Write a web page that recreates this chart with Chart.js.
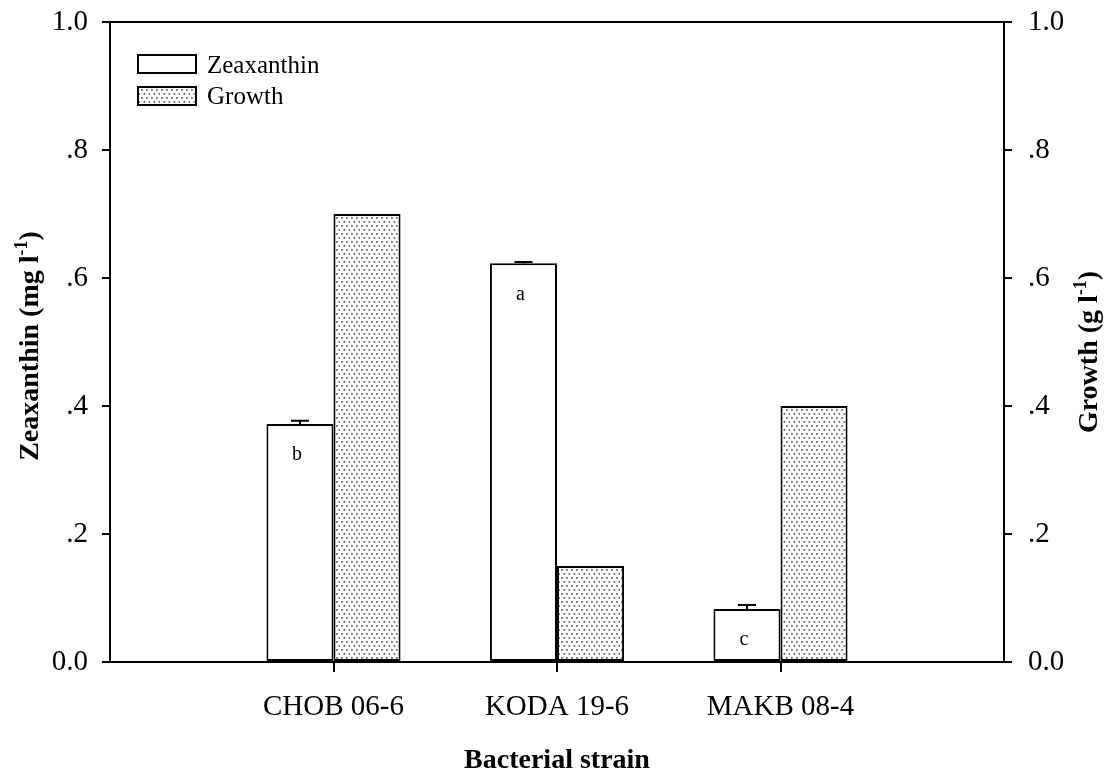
<!DOCTYPE html>
<html><head><meta charset="utf-8">
<script src="https://cdn.jsdelivr.net/npm/chart.js@4.4.0/dist/chart.umd.min.js"></script>
<style>html,body{margin:0;padding:0;background:#fff;overflow:hidden;}</style>
</head><body>
<canvas id="c" width="1105" height="775"></canvas>
<script>
const categories = ['', 'CHOB 06-6', 'KODA 19-6', 'MAKB 08-4', ''];
const zeaxanthin = [null, 0.372, 0.623, 0.083, null];
const zeaxanthinErr = [null, 0.005, 0.002, 0.006, null];
const growth = [null, 0.70, 0.15, 0.40, null];
const sigLetters = ['', 'b', 'a', 'c', ''];
const yTicks = [0, 0.2, 0.4, 0.6, 0.8, 1.0];

const FONT = '"Liberation Serif", "Times New Roman", Times, serif';

function fmt(v) {
  if (Math.abs(v) < 1e-9) return '0.0';
  if (Math.abs(v - 1) < 1e-9) return '1.0';
  return v.toFixed(1).replace(/^0/, '');
}

// dotted pattern for Growth bars
const pc = document.createElement('canvas');
pc.width = 10; pc.height = 8;
const pctx = pc.getContext('2d');
pctx.fillStyle = '#fff';
pctx.fillRect(0, 0, 10, 8);
pctx.fillStyle = '#6e6e6e';
[[1,1],[6,1],[3.5,5],[8.5,5]].forEach(([x,y]) => pctx.fillRect(x, y, 1.8, 1.8));
const ctx0 = document.getElementById('c').getContext('2d');
const dotPattern = ctx0.createPattern(pc, 'repeat');

function drawTitle(ctx, parts, x, y, rotate) {
  ctx.save();
  ctx.translate(x, y);
  if (rotate) ctx.rotate(-Math.PI / 2);
  ctx.fillStyle = '#000';
  ctx.textBaseline = 'alphabetic';
  ctx.textAlign = 'left';
  let total = 0;
  parts.forEach(p => { ctx.font = p.sup ? 'bold 18px ' + FONT : 'bold 28px ' + FONT; total += ctx.measureText(p.t).width; });
  let cx = -total / 2;
  parts.forEach(p => {
    ctx.font = p.sup ? 'bold 18px ' + FONT : 'bold 28px ' + FONT;
    ctx.fillText(p.t, cx, p.sup ? -11 : 0);
    cx += ctx.measureText(p.t).width;
  });
  ctx.restore();
}

const decor = {
  id: 'decor',
  afterDatasetsDraw(chart) {
    const ctx = chart.ctx;
    const a = chart.chartArea;
    const ys = chart.scales.y;
    const meta = chart.getDatasetMeta(0);
    ctx.save();
    ctx.strokeStyle = '#000';
    ctx.lineWidth = 2;
    // error bars + letters
    for (let i = 0; i < zeaxanthin.length; i++) {
      if (zeaxanthin[i] == null) continue;
      const bar = meta.data[i];
      const yTop = ys.getPixelForValue(zeaxanthin[i] + zeaxanthinErr[i]);
      const yv = ys.getPixelForValue(zeaxanthin[i]);
      ctx.beginPath();
      ctx.moveTo(bar.x, yv);
      ctx.lineTo(bar.x, yTop);
      ctx.moveTo(bar.x - 9, yTop);
      ctx.lineTo(bar.x + 9, yTop);
      ctx.stroke();
      ctx.fillStyle = '#000';
      ctx.font = '20px ' + FONT;
      ctx.textAlign = 'center';
      ctx.textBaseline = 'middle';
      ctx.fillText(sigLetters[i], bar.x - 3, yv + 31);
    }
    // frame
    ctx.strokeRect(a.left, a.top, a.right - a.left, a.bottom - a.top);
    // legend
    ctx.lineWidth = 2;
    ctx.fillStyle = '#fff';
    ctx.fillRect(138, 55, 58, 18);
    ctx.strokeRect(138, 55, 58, 18);
    ctx.fillStyle = dotPattern;
    ctx.fillRect(138, 87, 58, 18);
    ctx.strokeRect(138, 87, 58, 18);
    ctx.fillStyle = '#000';
    ctx.font = '25px ' + FONT;
    ctx.textAlign = 'left';
    ctx.textBaseline = 'alphabetic';
    ctx.fillText('Zeaxanthin', 207, 73);
    ctx.fillText('Growth', 207, 104);
    ctx.restore();
    // axis titles
    drawTitle(ctx, [{t: 'Bacterial strain'}], (a.left + a.right) / 2, 768, false);
    drawTitle(ctx, [{t: 'Zeaxanthin (mg l'}, {t: '-1', sup: true}, {t: ')'}], 38, 346, true);
    drawTitle(ctx, [{t: 'Growth (g l'}, {t: '-1', sup: true}, {t: ')'}], 1097, 352, true);
  }
};

const yCommon = (pos, width, pad) => ({
  position: pos,
  min: 0, max: 1,
  afterBuildTicks: s => { s.ticks = yTicks.map(v => ({ value: v })); },
  afterFit: s => { s.width = width; s.paddingTop = 0; s.paddingBottom = 0; },
  ticks: { callback: v => fmt(v), color: '#000', padding: pad, font: { family: FONT, size: 29 } },
  grid: { drawOnChartArea: false, drawTicks: true, tickLength: 8, lineWidth: 2, color: '#000', tickColor: '#000' },
  border: { display: false }
});

new Chart(ctx0, {
  type: 'bar',
  data: {
    labels: categories,
    datasets: [
      { label: 'Zeaxanthin', data: zeaxanthin, yAxisID: 'y', backgroundColor: '#fff', borderColor: '#000', borderWidth: 2, borderSkipped: false },
      { label: 'Growth', data: growth, yAxisID: 'y2', backgroundColor: dotPattern, borderColor: '#000', borderWidth: 2, borderSkipped: false }
    ]
  },
  options: {
    responsive: false,
    devicePixelRatio: 1,
    animation: false,
    categoryPercentage: 0.6,
    barPercentage: 1.0,
    layout: { padding: { top: 22, left: 0, right: 0, bottom: 0 } },
    plugins: { legend: { display: false }, tooltip: { enabled: false } },
    scales: {
      x: {
        type: 'category',
        offset: false,
        afterFit: s => { s.height = 113; s.paddingLeft = 0; s.paddingRight = 0; },
        ticks: { color: '#000', padding: 18, autoSkip: false, maxRotation: 0, font: { family: FONT, size: 29 } },
        grid: {
          offset: false,
          drawOnChartArea: false, drawTicks: true, tickLength: 10, lineWidth: 2,
          color: c => (c.index === 0 || c.index === categories.length - 1) ? 'rgba(0,0,0,0)' : '#000',
          tickColor: c => (c.index === 0 || c.index === categories.length - 1) ? 'rgba(0,0,0,0)' : '#000'
        },
        border: { display: false }
      },
      y: yCommon('left', 110, 14),
      y2: yCommon('right', 101, 16)
    }
  },
  plugins: [decor]
});
</script>
</body></html>
